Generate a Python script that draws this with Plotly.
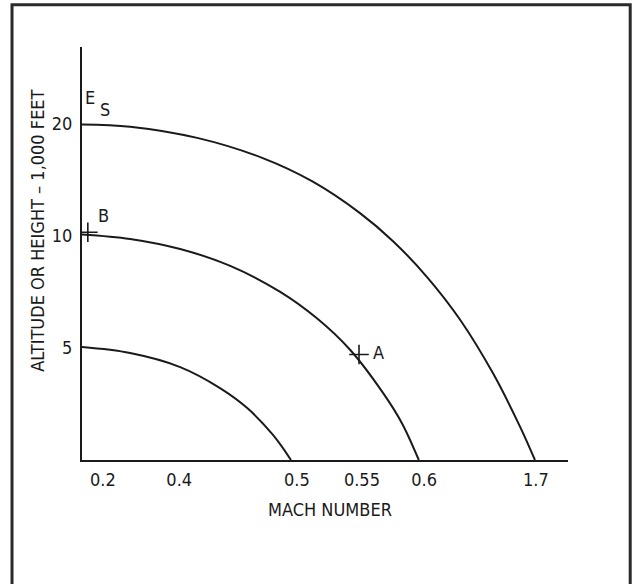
import plotly.graph_objects as go

# Schematic units (axis is not to scale; tick labels are placed at their drawn positions)
x_tick_pos = [0.43, 2.00, 4.42, 5.76, 7.04, 9.34]
x_tick_labels = ["0.2", "0.4", "0.5", "0.55", "0.6", "1.7"]
y_tick_pos = [1.0, 2.0, 3.0]
y_tick_labels = ["5", "10", "20"]

curve_low_x = [0, 0.99, 2.02, 2.84, 3.40, 3.93, 4.30]
curve_low_y = [1.006, 0.953, 0.828, 0.641, 0.463, 0.223, 0.0]

curve_mid_x = [0, 0.99, 2.02, 3.05, 4.07, 4.84, 5.52, 6.19, 6.58, 6.93]
curve_mid_y = [2.01, 1.97, 1.88, 1.73, 1.50, 1.26, 0.98, 0.60, 0.33, 0.0]

curve_high_x = [0, 0.99, 2.37, 3.72, 4.75, 5.72, 6.40, 7.10, 7.78, 8.46, 9.01, 9.32]
curve_high_y = [2.99, 2.97, 2.87, 2.69, 2.48, 2.20, 1.95, 1.63, 1.25, 0.77, 0.30, 0.0]

point_names = ["A", "B"]
point_x = [5.70, 0.12]
point_y = [0.94, 2.03]

FONT = "DejaVu Sans Condensed, Liberation Sans Narrow, sans-serif"
INK = "#1a1a1a"

fig = go.Figure()
for xs, ys in [(curve_low_x, curve_low_y), (curve_mid_x, curve_mid_y), (curve_high_x, curve_high_y)]:
    fig.add_trace(go.Scatter(x=xs, y=ys, mode="lines",
                             line=dict(color=INK, width=2, shape="spline", smoothing=1.0),
                             showlegend=False, hoverinfo="skip"))

fig.add_trace(go.Scatter(x=point_x, y=point_y, mode="markers",
                         marker=dict(symbol="cross-thin", size=14, line=dict(color=INK, width=1.6)),
                         showlegend=False, hoverinfo="skip"))

# point labels
fig.add_annotation(x=point_x[0], y=point_y[0], text="A", showarrow=False,
                   xanchor="left", yanchor="middle", xshift=12, yshift=2,
                   font=dict(family=FONT, size=18, color=INK))
fig.add_annotation(x=point_x[1], y=point_y[1], text="B", showarrow=False,
                   xanchor="left", yanchor="middle", xshift=8, yshift=17,
                   font=dict(family=FONT, size=18, color=INK))
fig.add_annotation(x=0.16, y=3.23, text="E", showarrow=False,
                   xanchor="center", yanchor="middle",
                   font=dict(family=FONT, size=18, color=INK))
fig.add_annotation(x=0.47, y=3.12, text="S", showarrow=False,
                   xanchor="center", yanchor="middle",
                   font=dict(family=FONT, size=18, color=INK))

# axis titles
fig.add_annotation(xref="paper", yref="paper", x=0.51, y=-0.119, text="MACH NUMBER",
                   showarrow=False, xanchor="center", yanchor="middle",
                   font=dict(family=FONT, size=18, color=INK))
fig.add_annotation(xref="paper", yref="paper", x=-0.0916, y=0.556,
                   text="ALTITUDE OR HEIGHT – 1,000 FEET", textangle=-90,
                   showarrow=False, xanchor="center", yanchor="middle",
                   font=dict(family=FONT, size=18, color=INK))

# outer frame
fig.add_shape(type="rect", xref="paper", yref="paper",
              x0=-0.144, x1=1.128, y0=-0.36, y1=1.102,
              line=dict(color="#2b2b2b", width=3), fillcolor="rgba(0,0,0,0)")

fig.update_xaxes(range=[0, 10], tickvals=x_tick_pos, ticktext=x_tick_labels,
                 showline=True, linecolor=INK, linewidth=2, showgrid=False,
                 zeroline=False, ticks="", ticklabelstandoff=2,
                 tickfont=dict(family=FONT, size=18, color=INK))
fig.update_yaxes(range=[0, 3.68], tickvals=y_tick_pos, ticktext=y_tick_labels,
                 showline=True, linecolor=INK, linewidth=2, showgrid=False,
                 zeroline=False, ticks="", ticklabelstandoff=4,
                 tickfont=dict(family=FONT, size=18, color=INK))

fig.update_layout(width=633, height=584,
                  margin=dict(l=82, r=65, t=47, b=124),
                  paper_bgcolor="white", plot_bgcolor="white")

fig.write_html("out.html", config={"displayModeBar": False},
               post_script="document.body.style.margin='0';")
